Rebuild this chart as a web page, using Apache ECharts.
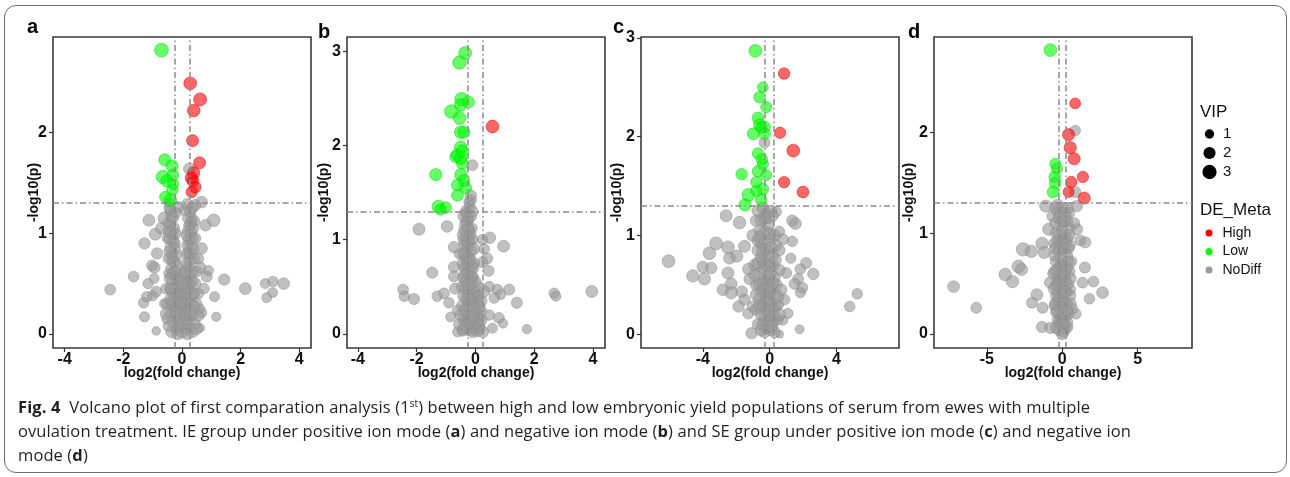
<!DOCTYPE html>
<html>
<head>
<meta charset="utf-8">
<script src="https://cdn.jsdelivr.net/npm/echarts@6.0.0/dist/echarts.min.js"></script>
<style>
  html, body { margin: 0; padding: 0; background: #fff; }
  #wrap { position: relative; width: 1290px; height: 477px; overflow: hidden; }
  #frame { position: absolute; left: 4px; top: 5px; width: 1283px; height: 468px;
    border: 1px solid #6e6e6e; border-radius: 12px; box-sizing: border-box; }
  #chart { position: absolute; left: 0; top: 0; width: 1290px; height: 477px; }
  #caption { position: absolute; left: 18px; top: 395px; font-family: "Open Sans", sans-serif;
    font-size: 16.5px; letter-spacing: 0.1px; line-height: 24px; color: #231f20; white-space: nowrap; }
  #caption b { font-weight: 700; }
</style>
</head>
<body>
<div id="wrap">
  <div id="frame"></div>
  <div id="chart"></div>
  <div id="caption">
    <b>Fig. 4</b>&nbsp; Volcano plot of first comparation analysis (1<sup style="font-size:10px;line-height:0">st</sup>) between high and low embryonic yield populations of serum from ewes with multiple<br>
    ovulation treatment. IE group under positive ion mode (<b>a</b>) and negative ion mode (<b>b</b>) and SE group under positive ion mode (<b>c</b>) and negative ion<br>
    mode (<b>d</b>)
  </div>
</div>
<script>
// 每个点: [log2(fold change), -log10(p), VIP]
const aHigh = [[0.28,2.49,2.3],[0.62,2.33,2.4],[0.40,2.22,2.2],[0.36,1.92,2.0],[0.60,1.70,2.0],[0.40,1.60,2.0],[0.32,1.55,2.1],[0.37,1.52,1.9],[0.45,1.46,1.9],[0.33,1.41,1.7]];
const aLow = [[-0.70,2.82,2.8],[-0.59,1.73,2.0],[-0.34,1.67,2.0],[-0.65,1.56,2.6],[-0.31,1.58,1.8],[-0.51,1.52,2.1],[-0.33,1.43,1.8],[-0.40,1.33,2.2],[-0.57,1.36,1.7],[-0.30,1.49,1.6]];
const aNoDiff = [
  [-2.45,0.44,1.5],[-1.65,0.57,1.5],[-1.28,0.90,1.7],[-1.13,1.13,1.9],[-0.91,0.99,1.9],[-0.85,0.80,1.7],[-1.02,0.68,1.6],[-0.94,0.66,1.7],
  [-1.31,0.31,1.4],[-1.20,0.37,1.4],[-1.28,0.17,1.3],[-1.16,0.50,1.3],[-0.88,0.42,1.5],[1.08,1.13,2.2],[0.80,1.08,1.8],[0.67,0.85,1.7],
  [1.44,0.54,1.7],[2.16,0.45,1.9],[2.84,0.50,1.2],[3.10,0.52,1.4],[3.47,0.50,1.8],[3.09,0.41,1.2],[2.89,0.36,1.2],[1.11,0.37,1.2],
  [1.17,0.17,1.0],[0.67,0.21,1.3],[0.62,0.06,0.9],[-0.88,0.03,0.8],[0.84,0.57,1.6],[0.62,0.66,1.7],[0.90,0.63,1.3],[0.11,1.23,1.8],
  [-0.14,1.26,1.7],[0.67,1.31,1.8],[0.17,1.29,1.6],[-0.43,1.30,1.6],[0.25,1.64,1.8],[0.45,1.28,1.7],[-1.00,0.38,1.3],[-0.95,0.55,1.2],
  [0.75,0.45,1.4],[0.55,0.75,1.6],[-0.60,1.15,2.2],[-0.70,1.05,1.9],
  [-0.38,1.22,1.6],[-0.32,1.15,1.8],[-0.40,1.08,1.5],[-0.34,1.00,2.0],[-0.30,0.93,1.7],[-0.38,0.86,1.9],[-0.33,0.79,1.6],[-0.28,0.72,2.1],
  [-0.36,0.65,1.8],[-0.25,0.58,1.5],[-0.31,0.52,2.0],[-0.22,0.46,1.7],[-0.29,0.40,1.9],[0.28,1.22,1.7],[0.33,1.15,1.5],[0.26,1.08,1.9],
  [0.31,1.01,1.6],[0.24,0.94,2.0],[0.30,0.87,1.8],[0.22,0.80,1.5],[0.27,0.73,1.9],[0.20,0.66,1.7],[0.25,0.59,2.0],[0.18,0.52,1.6],
  [0.22,0.45,1.8],[0.15,0.39,1.5],[-0.18,0.35,1.8],[-0.10,0.30,2.0],[0.00,0.28,1.7],[0.10,0.32,1.9],[-0.05,0.22,1.6],[0.05,0.18,2.0],
  [-0.15,0.15,1.8],[0.15,0.12,1.7],[-0.08,0.08,1.9],[0.08,0.05,1.6],[0.00,0.02,2.0],[-0.20,0.05,1.5],[0.22,0.25,1.6],[-0.25,0.25,1.9],
  [0.02,0.40,1.5],[-0.12,0.48,1.4],[0.12,0.55,1.3],[-0.55,0.45,1.4],[0.55,0.40,1.5],[-0.60,0.30,1.2],[0.60,0.25,1.3],[-0.50,0.15,1.6],
  [0.45,0.10,1.4],[-0.45,0.60,1.3],[0.50,0.62,1.5],[-0.50,0.95,1.4],[0.45,0.95,1.6],[-0.48,1.10,1.3],[0.42,1.12,1.5],[-0.42,0.20,1.1],[0.38,0.18,1.0],
  [-0.35,1.18,1.9],[-0.28,1.05,1.8],[-0.40,0.95,2.0],[-0.25,0.85,1.9],[-0.35,0.75,2.0],[-0.20,0.68,1.8],[-0.30,0.60,2.1],[-0.15,0.55,1.9],
  [-0.25,0.42,2.0],[-0.10,0.38,1.8],[-0.20,0.28,2.1],[0.00,0.35,1.9],[0.10,0.25,2.0],[0.20,0.35,1.8],[0.30,0.30,1.9],[0.25,0.50,2.0],
  [0.35,0.62,1.8],[0.28,0.80,2.0],[0.35,0.95,1.9],[0.30,1.10,1.8],[0.20,1.02,1.7],[0.15,0.70,1.8],[0.05,0.60,1.9],[-0.05,0.45,2.0],
  [0.10,0.45,1.8],[-0.30,0.12,1.9],[0.25,0.08,1.8],[-0.10,0.15,2.0],[0.12,0.20,1.9],[0.00,0.10,1.8],[-0.40,0.45,1.7],[0.40,0.40,1.7],
  [-0.45,0.75,1.7],[0.40,0.75,1.6],[-0.25,0.90,1.6],[0.18,0.88,1.5],
  [-0.42,1.25,1.8],[-0.22,1.20,1.6],[0.20,1.15,1.5],[0.35,1.25,1.7],[-0.45,1.02,1.7],[-0.22,1.00,1.6],[0.15,0.98,1.5],[0.38,1.05,1.7],
  [-0.42,0.82,1.8],[-0.20,0.78,1.7],[0.15,0.80,1.6],[0.38,0.85,1.8],[-0.40,0.55,1.9],[-0.20,0.62,1.7],[0.12,0.62,1.6],[0.35,0.52,1.9],
  [-0.50,0.30,1.8],[-0.35,0.30,2.0],[0.35,0.40,1.9],[0.48,0.30,1.8],[-0.35,0.02,1.9],[-0.15,0.00,1.8],[0.18,0.00,1.9],[0.35,0.02,1.8],
  [-0.45,0.08,1.7],[0.50,0.05,1.7],[-0.55,0.20,1.6],[0.55,0.18,1.7],[0.40,0.28,1.8],[-0.28,0.32,1.9],[0.18,0.15,2.0],[-0.18,0.22,2.0],
  [0.28,0.20,1.9],[-0.05,0.32,1.9],[0.10,0.40,1.9],[-0.20,0.45,1.8],[0.20,0.45,1.8],[-0.12,0.40,1.8],[-0.38,0.35,1.8],[0.45,0.50,1.8],
  [-0.35,0.45,1.9],[0.00,0.50,1.8]
];

const bHigh = [[0.58,2.20,2.3]];
const bLow = [[-0.35,2.98,2.3],[-0.54,2.88,2.6],[-0.47,2.49,2.6],[-0.24,2.46,2.0],[-0.82,2.36,2.6],[-0.54,2.29,2.3],[-0.50,2.43,2.2],[-0.50,2.14,2.2],
  [-0.39,2.14,2.0],[-0.50,1.98,2.2],[-0.61,1.90,2.0],[-0.67,1.88,1.9],[-0.44,1.81,2.0],[-1.35,1.69,2.0],[-0.50,1.69,2.0],[-0.39,1.63,1.9],
  [-0.61,1.58,2.0],[-0.33,1.55,1.9],[-0.61,1.47,1.9],[-1.26,1.35,2.3],[-1.01,1.34,1.8],[-1.18,1.32,1.7],[-0.50,1.86,1.9],[-0.44,1.94,2.1]];
const bNoDiff = [
  [-1.92,1.11,2.0],[-0.96,1.14,1.8],[-0.73,0.92,1.7],[-1.47,0.65,1.6],[-0.73,0.71,1.6],[-0.73,0.61,1.5],[-2.46,0.47,1.5],[-2.42,0.40,1.4],
  [-2.09,0.37,1.6],[-1.30,0.40,1.4],[-1.07,0.43,1.5],[-0.69,0.48,1.6],[0.49,1.02,1.8],[0.24,1.00,1.4],[0.96,0.93,1.9],[0.40,0.80,1.6],
  [0.24,0.76,1.5],[0.45,0.67,1.6],[0.47,0.50,1.5],[0.75,0.47,1.4],[1.15,0.47,1.6],[0.86,0.42,1.3],[0.64,0.38,1.4],[1.41,0.33,1.6],
  [0.80,0.17,1.5],[0.94,0.11,1.0],[0.58,0.06,1.2],[1.75,0.05,1.0],[2.68,0.43,1.4],[2.74,0.40,1.2],[3.96,0.45,1.9],[-0.61,0.02,1.2],
  [-0.44,0.03,1.3],[-0.10,1.79,1.5],[-0.15,1.47,1.6],[-0.21,1.40,1.5],[0.47,0.20,1.4],[0.20,0.24,1.3],[-0.84,0.18,1.2],[-0.90,0.33,1.4],
  [-0.55,0.85,1.3],[-0.60,0.25,1.5],[0.30,0.90,1.4],
  [-0.30,1.28,1.8],[-0.25,1.22,1.9],[-0.33,1.16,2.0],[-0.22,1.10,1.8],[-0.30,1.04,2.1],[-0.20,0.98,1.7],[-0.28,0.92,1.9],[-0.35,0.86,1.8],
  [-0.22,0.80,2.0],[-0.30,0.74,1.7],[-0.18,0.68,1.9],[-0.26,0.62,2.0],[-0.34,0.56,1.8],[-0.15,0.52,1.7],[-0.24,0.46,1.9],[-0.10,0.42,1.8],
  [-0.30,0.38,2.0],[-0.05,0.34,1.7],[-0.20,0.30,1.9],[0.00,0.26,1.8],[-0.12,0.22,2.0],[-0.28,0.18,1.7],[0.02,0.14,1.9],[-0.15,0.10,1.8],
  [-0.05,0.06,2.0],[0.05,0.03,1.8],[-0.22,0.04,1.7],[-0.40,1.00,1.6],[-0.12,1.12,1.5],[-0.38,0.70,1.6],[-0.08,0.60,1.5],[0.08,0.35,1.6],
  [-0.45,0.30,1.6],[0.12,0.15,1.5],[-0.35,0.10,1.6],[-0.20,1.35,1.7],[-0.15,1.42,1.5],
  [-0.28,1.20,2.0],[-0.18,1.05,1.9],[-0.36,0.95,1.8],[-0.15,0.88,2.0],[-0.32,0.80,1.9],[-0.12,0.72,1.8],[-0.28,0.66,2.0],[-0.20,0.56,1.9],
  [-0.35,0.48,1.8],[-0.08,0.48,2.0],[-0.25,0.40,1.9],[0.05,0.40,1.8],[-0.15,0.35,2.0],[-0.30,0.28,1.9],[0.05,0.22,1.8],[-0.18,0.15,2.0],
  [-0.30,0.08,1.8],[0.00,0.08,1.9],[-0.10,0.02,1.8],[0.15,0.28,1.6],[0.10,0.50,1.6],[-0.42,0.60,1.6],[-0.40,0.15,1.7],[0.15,0.06,1.7],
  [-0.05,0.75,1.6],[-0.38,1.10,1.6],[-0.25,0.98,1.8],[-0.22,0.20,1.9],
  [-0.40,1.25,1.8],[-0.15,1.25,1.7],[-0.42,1.05,1.8],[-0.10,1.00,1.7],[-0.40,0.85,1.8],[-0.05,0.90,1.7],[-0.42,0.75,1.9],[-0.08,0.70,1.8],
  [-0.35,0.62,1.9],[-0.12,0.60,1.9],[0.00,0.55,1.8],[-0.45,0.50,1.8],[-0.20,0.36,1.9],[0.10,0.40,1.8],[-0.40,0.40,1.9],[0.20,0.35,1.7],
  [-0.50,0.20,1.8],[0.20,0.15,1.8],[-0.35,0.25,1.9],[-0.08,0.28,1.9],[0.10,0.10,1.9],[-0.42,0.05,1.8],[0.25,0.02,1.8],[-0.55,0.10,1.7],
  [0.30,0.45,1.7],[-0.20,0.12,2.0],[-0.10,0.18,2.0],[-0.25,0.52,1.9],[-0.18,0.78,1.9],[-0.25,1.12,1.9],[-0.32,1.30,1.7],[-0.10,1.30,1.6]
];

const cHigh = [[0.87,2.64,1.8],[0.63,2.04,1.7],[1.42,1.86,2.3],[0.87,1.54,1.7],[2.00,1.44,1.9]];
const cLow = [[-0.85,2.87,2.3],[-0.40,2.50,1.5],[-0.60,2.40,1.8],[-0.20,2.30,1.6],[-0.69,2.19,1.9],[-0.60,2.12,2.0],[-0.30,2.10,1.9],[-0.50,2.09,1.7],
  [-0.98,2.03,1.9],[-0.30,2.03,1.8],[-0.69,1.83,1.8],[-0.46,1.77,1.7],[-0.40,1.72,1.6],[-0.69,1.65,1.8],[-0.20,1.61,1.5],[-1.67,1.62,1.8],
  [-0.79,1.54,1.7],[-0.40,1.47,1.8],[-1.27,1.41,2.3],[-1.47,1.31,2.0],[-0.50,1.36,1.8],[-0.79,1.45,1.6]];
const cNoDiff = [
  [-6.05,0.74,2.3],[-4.60,0.59,2.1],[-3.90,0.56,2.0],[-4.00,0.68,1.8],[-3.50,0.67,1.8],[-3.60,0.82,2.2],[-3.20,0.92,2.3],[-2.49,0.88,2.3],
  [-2.40,0.77,1.9],[-1.96,0.79,2.0],[-1.50,0.89,2.0],[-2.60,1.20,2.0],[-1.80,1.13,2.2],[-2.49,0.62,2.0],[-2.30,0.51,1.9],[-2.30,0.42,2.1],
  [-1.86,0.28,1.7],[-1.67,0.43,1.8],[-1.27,0.21,1.6],[-1.08,0.01,1.7],[-1.27,0.66,1.8],[-1.20,0.56,1.7],[1.36,1.15,1.7],[1.55,1.12,1.9],
  [1.36,0.94,1.4],[1.27,0.77,1.3],[2.19,0.72,1.6],[2.62,0.61,1.7],[1.84,0.66,1.4],[1.71,0.56,1.5],[1.50,0.51,1.6],[1.96,0.47,1.5],
  [1.84,0.42,1.3],[5.25,0.41,1.4],[4.80,0.28,1.4],[1.80,0.05,0.9],[0.60,0.00,0.6],[0.80,0.14,1.1],[1.10,0.21,1.3],[0.58,1.04,1.5],
  [0.80,0.96,1.6],[0.40,1.24,1.4],[-0.30,1.94,1.5],[-1.00,1.00,2.0],[-0.90,0.70,1.8],[-1.50,0.35,1.6],[-1.00,0.28,1.7],[1.00,0.62,1.5],
  [0.90,0.35,1.4],[-2.80,0.45,1.8],
  [-0.40,1.28,2.0],[-0.20,1.22,1.8],[-0.50,1.16,2.1],[-0.10,1.10,1.9],[-0.30,1.04,2.0],[0.10,0.98,1.8],[-0.50,0.92,2.1],[-0.20,0.86,1.9],
  [0.20,0.80,1.8],[-0.40,0.74,2.0],[0.00,0.68,1.9],[-0.60,0.62,2.1],[0.30,0.58,1.8],[-0.20,0.54,2.0],[0.10,0.48,1.9],[-0.50,0.44,2.0],
  [0.30,0.40,1.8],[-0.10,0.36,2.1],[-0.40,0.30,1.9],[0.20,0.26,1.8],[0.00,0.20,2.0],[-0.30,0.16,1.9],[0.20,0.12,1.8],[-0.10,0.08,1.9],
  [0.10,0.04,1.7],[-0.30,0.02,1.6],[-0.80,0.50,1.8],[0.50,0.30,1.7],[-0.70,0.85,1.9],[0.40,0.90,1.7],[-0.80,0.25,1.7],[0.60,0.65,1.6],
  [0.50,0.15,1.5],[-0.60,1.05,1.8],[0.20,1.20,1.6],
  [-0.30,1.18,2.1],[-0.60,0.98,2.0],[0.00,1.02,1.9],[-0.30,0.92,2.0],[-0.10,0.80,2.1],[-0.50,0.78,1.9],[0.20,0.70,2.0],[-0.30,0.66,2.1],
  [-0.10,0.58,1.9],[0.40,0.50,1.9],[-0.40,0.52,2.0],[0.00,0.42,2.1],[-0.20,0.40,2.0],[-0.60,0.36,1.9],[0.10,0.30,2.0],[-0.20,0.25,2.1],
  [0.30,0.18,1.9],[-0.50,0.20,2.0],[0.00,0.14,2.0],[-0.20,0.06,1.9],[0.30,0.02,1.7],[-0.70,0.10,1.7],[0.70,0.45,1.7],[-0.90,0.60,1.8],
  [0.60,0.85,1.6],[-0.80,1.15,1.8],
  [-0.70,1.25,1.9],[0.10,1.25,1.7],[-0.10,1.18,2.0],[-0.70,0.95,1.9],[0.30,1.00,1.8],[-0.40,0.85,2.0],[0.10,0.88,1.9],[-0.70,0.72,2.0],
  [0.35,0.75,1.9],[-0.20,0.70,2.0],[-0.60,0.50,2.0],[0.20,0.52,2.0],[-0.30,0.45,2.0],[0.50,0.38,1.9],[-0.20,0.32,2.0],[-0.60,0.28,2.0],
  [0.35,0.28,1.9],[-0.40,0.10,2.0],[0.15,0.08,1.9],[-0.05,0.24,2.0],[-0.80,0.40,1.9],[0.60,0.20,1.8],[-0.50,0.04,1.9],[-0.10,0.48,2.0],
  [0.05,0.62,2.0]
];

const dHigh = [[0.86,2.29,1.5],[0.42,1.98,2.0],[0.53,1.85,2.1],[0.79,1.74,2.0],[1.37,1.56,1.7],[0.60,1.51,1.7],[0.42,1.41,1.6],[1.46,1.35,2.0]];
const dLow = [[-0.79,2.82,2.3],[-0.46,1.69,1.6],[-0.35,1.64,1.7],[-0.50,1.56,1.8],[-0.46,1.50,1.8],[-0.60,1.41,2.0]];
const dNoDiff = [
  [-7.20,0.47,1.9],[-5.70,0.26,1.5],[-2.60,0.84,2.6],[-2.05,0.82,2.1],[-2.90,0.67,2.3],[-2.70,0.64,2.0],[-3.78,0.59,2.2],[-3.30,0.52,2.1],
  [-1.34,0.90,2.1],[-1.20,0.81,2.0],[-0.90,1.04,2.0],[-1.10,1.27,2.0],[-0.60,1.17,2.1],[-1.68,0.39,1.9],[-2.00,0.31,1.6],[-1.30,0.26,1.6],
  [-1.34,0.07,1.7],[-0.80,0.06,1.6],[-0.80,0.51,1.7],[-0.10,0.93,1.4],[0.97,1.04,1.7],[1.52,0.91,1.7],[1.20,0.93,1.5],[1.50,0.66,1.6],
  [2.07,0.52,1.5],[2.67,0.41,1.9],[1.80,0.35,1.4],[1.35,0.51,1.5],[0.86,2.02,1.4],[0.86,1.41,1.6],[0.97,1.27,1.7],[0.42,1.20,1.9],
  [0.80,1.10,1.6],[-0.50,0.28,1.6],[0.90,0.20,1.4],[-0.30,1.28,1.9],
  [-0.30,1.22,1.7],[0.20,1.18,1.9],[-0.10,1.10,1.8],[0.40,1.05,2.0],[-0.40,1.00,1.8],[0.10,0.95,1.9],[0.50,0.88,1.7],[-0.20,0.84,2.0],
  [0.30,0.78,1.8],[-0.40,0.72,1.9],[0.00,0.68,1.7],[0.45,0.62,1.9],[-0.20,0.58,1.8],[0.20,0.52,2.0],[-0.40,0.48,1.7],[0.50,0.44,1.8],
  [0.00,0.40,1.9],[-0.25,0.34,1.8],[0.30,0.30,1.7],[-0.10,0.24,2.0],[0.20,0.18,1.8],[-0.30,0.14,1.7],[0.00,0.10,1.9],[0.35,0.07,1.6],
  [-0.20,0.04,1.8],[0.10,0.02,1.7],[0.60,0.72,1.6],[-0.55,0.90,1.5],[0.65,0.25,1.6],[-0.60,0.60,1.6],
  [0.10,1.25,1.9],[-0.20,1.15,1.8],[0.30,1.12,1.8],[0.00,1.02,1.9],[-0.30,0.92,1.9],[0.30,0.95,1.8],[0.10,0.85,2.0],[-0.10,0.76,1.9],
  [0.40,0.72,1.8],[-0.30,0.64,2.0],[0.20,0.64,1.9],[0.00,0.55,2.0],[0.35,0.50,1.9],[-0.30,0.52,1.8],[-0.10,0.45,2.0],[0.25,0.42,1.9],
  [-0.40,0.38,1.8],[0.10,0.32,2.0],[-0.20,0.28,1.9],[0.40,0.20,1.8],[0.00,0.16,2.0],[-0.20,0.10,1.9],[0.20,0.06,1.8],[-0.40,0.22,1.7],
  [0.55,0.55,1.7],[-0.50,0.78,1.6],
  [-0.45,1.25,1.8],[0.35,1.25,1.8],[-0.45,1.10,1.8],[0.10,1.12,1.9],[0.45,0.98,1.9],[-0.20,0.98,1.9],[0.20,0.90,1.9],[-0.45,0.85,1.8],
  [-0.10,0.68,2.0],[0.30,0.66,2.0],[-0.50,0.62,1.8],[0.10,0.58,2.0],[-0.20,0.50,2.0],[0.50,0.38,1.9],[-0.30,0.42,2.0],[0.15,0.42,2.0],
  [-0.45,0.30,1.9],[0.00,0.30,2.0],[0.30,0.24,1.9],[-0.30,0.22,2.0],[-0.10,0.15,2.0],[0.10,0.10,2.0],[-0.40,0.06,1.8],[0.30,0.12,1.9],
  [0.00,0.00,1.8],[0.55,0.30,1.8],[-0.55,0.45,1.8],[0.40,0.85,1.8]
];

// 刻度
const aXTicks = [-4, -2, 0, 2, 4];
const bXTicks = [-4, -2, 0, 2, 4];
const cXTicks = [-4, 0, 4];
const dXTicks = [-5, 0, 5];
const aYTicks = [0, 1, 2];
const bYTicks = [0, 1, 2, 3];
const cYTicks = [0, 1, 2, 3];
const dYTicks = [0, 1, 2];
const vipLevels = [1, 2, 3];
const pCut = 1.3;     // -log10(0.05)
const fcCut = 0.263;  // log2(1.2)

const SANS = '"Liberation Sans", Arial, sans-serif';
const colors = { High: '#FF0000', Low: '#00FF00', NoDiff: '#999999' };
const vipSize = (v) => 2.5 + 6.8 * Math.sqrt(v);

const panels = [
  { letter: 'a', left: 53, xr: [-4.4, 4.4], yr: [-0.14, 2.95], xt: aXTicks, yt: aYTicks, high: aHigh, low: aLow, none: aNoDiff, gap: 12, lx: 27, ly: 37 },
  { letter: 'b', left: 347, xr: [-4.37, 4.41], yr: [-0.15, 3.15], xt: bXTicks, yt: bYTicks, high: bHigh, low: bLow, none: bNoDiff, gap: 16, lx: 318, ly: 42 },
  { letter: 'c', left: 641, xr: [-7.7, 7.75], yr: [-0.14, 3.01], xt: cXTicks, yt: cYTicks, high: cHigh, low: cLow, none: cNoDiff, gap: 17, lx: 613, ly: 37 },
  { letter: 'd', left: 934, xr: [-8.5, 8.6], yr: [-0.14, 2.95], xt: dXTicks, yt: dYTicks, high: dHigh, low: dLow, none: dNoDiff, gap: 18, lx: 908, ly: 42 },
];

const chart = echarts.init(document.getElementById('chart'));

const grids = [], xAxes = [], yAxes = [], series = [], graphics = [];
panels.forEach((p, i) => {
  grids.push({ left: p.left, top: 37, width: 258, height: 311, show: true, borderColor: '#3a3a3a', borderWidth: 1.6, outerBoundsMode: 'none' });
  xAxes.push({
    type: 'value', gridIndex: i, min: p.xr[0], max: p.xr[1],
    name: 'log2(fold change)', nameLocation: 'middle', nameGap: 18, nameMoveOverlap: false,
    nameTextStyle: { fontFamily: SANS, fontWeight: 'bold', fontSize: 14, color: '#111' },
    axisLine: { show: false, onZero: false },
    axisTick: { show: true, length: 4, customValues: p.xt, lineStyle: { color: '#333', width: 1.2 } },
    axisLabel: { customValues: p.xt, margin: 4, fontFamily: SANS, fontWeight: 'bold', fontSize: 16, color: '#111' },
    splitLine: { show: false },
  });
  yAxes.push({
    type: 'value', gridIndex: i, min: p.yr[0], max: p.yr[1],
    name: '-log10(p)', nameLocation: 'middle', nameGap: p.gap, nameRotate: 90, nameMoveOverlap: false,
    nameTextStyle: { fontFamily: SANS, fontWeight: 'bold', fontSize: 14, color: '#111' },
    axisLine: { show: false, onZero: false },
    axisTick: { show: true, length: 4, customValues: p.yt, lineStyle: { color: '#333', width: 1.2 } },
    axisLabel: { customValues: p.yt, margin: 6, fontFamily: SANS, fontWeight: 'bold', fontSize: 16, color: '#111' },
    splitLine: { show: false },
  });
  // 阈值线画在点的下面
  series.push({
    type: 'scatter', xAxisIndex: i, yAxisIndex: i, data: [], z: 1, silent: true,
    markLine: {
      silent: true, symbol: ['none', 'none'], label: { show: false }, animation: false,
      lineStyle: { type: [6, 3, 1.5, 3], color: '#8a8a8a', width: 1.5 },
      data: [{ yAxis: pCut }, { xAxis: -fcCut }, { xAxis: fcCut }],
    },
  });
  const base = { type: 'scatter', xAxisIndex: i, yAxisIndex: i, animation: false, silent: true, z: 3,
    symbolSize: (d) => vipSize(d[2]) };
  series.push({ ...base, name: 'NoDiff', data: p.none,
    itemStyle: { color: colors.NoDiff, opacity: 0.62, borderColor: '#8a8a8a', borderWidth: 0.8 } });
  series.push({ ...base, name: 'Low', data: p.low,
    itemStyle: { color: colors.Low, opacity: 0.6, borderColor: '#00d000', borderWidth: 0.8 } });
  series.push({ ...base, name: 'High', data: p.high,
    itemStyle: { color: colors.High, opacity: 0.6, borderColor: '#e00000', borderWidth: 0.8 } });
  graphics.push({ type: 'text', left: p.lx, top: p.ly - 20,
    style: { text: p.letter, font: 'bold 20px ' + SANS, fill: '#000' } });
});

// VIP 图例
graphics.push({ type: 'text', left: 1200, top: 104, style: { text: 'VIP', font: '17px ' + SANS, fill: '#111' } });
vipLevels.forEach((v, k) => {
  const cy = [134, 153, 172][k];
  graphics.push({ type: 'circle', shape: { cx: 1209.5, cy: cy, r: vipSize(v) / 2 }, style: { fill: '#000' } });
  graphics.push({ type: 'text', left: 1223, top: cy - 8, style: { text: String(v), font: '15px ' + SANS, fill: '#111' } });
});
graphics.push({ type: 'text', left: 1200, top: 202, style: { text: 'DE_Meta', font: '17px ' + SANS, fill: '#111' } });

chart.setOption({
  animation: false,
  grid: grids,
  xAxis: xAxes,
  yAxis: yAxes,
  series: series,
  legend: {
    data: ['High', 'Low', 'NoDiff'], orient: 'vertical', left: 1200.5, top: 221,
    icon: 'circle', itemWidth: 17, itemHeight: 7, itemGap: 4.5, symbolKeepAspect: true,
    itemStyle: { opacity: 1, borderWidth: 0 },
    textStyle: { fontFamily: SANS, fontSize: 14, color: '#111' },
    selectedMode: false,
  },
  graphic: graphics,
});
</script>
</body>
</html>
